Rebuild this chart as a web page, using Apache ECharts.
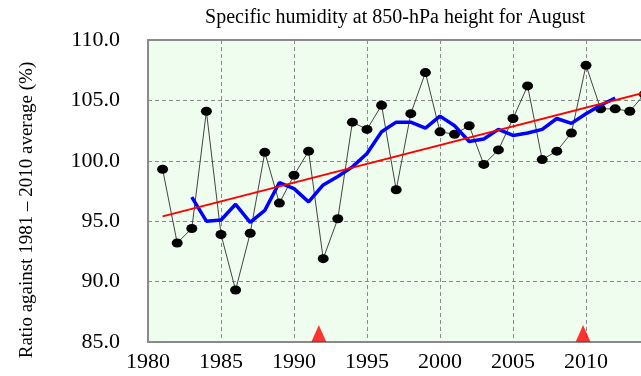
<!DOCTYPE html>
<html>
<head>
<meta charset="utf-8">
<script src="https://cdn.jsdelivr.net/npm/echarts@6/dist/echarts.min.js"></script>
<style>
html,body{margin:0;padding:0;background:#fff;}
#chart{width:641px;height:376px;}
</style>
</head>
<body>
<div id="chart"></div>
<script>
var years = [1981,1982,1983,1984,1985,1986,1987,1988,1989,1990,1991,1992,1993,1994,1995,1996,1997,1998,1999,2000,2001,2002,2003,2004,2005,2006,2007,2008,2009,2010,2011,2012,2013,2014];
var annualValues = [99.3,93.2,94.4,104.1,93.9,89.3,94.0,100.7,96.5,98.8,100.8,91.9,95.2,103.2,102.6,104.6,97.6,103.9,107.3,102.4,102.2,102.9,99.7,100.9,103.5,106.2,100.1,100.8,102.3,107.9,104.3,104.3,104.1,105.5];
var meanYears = [1983,1984,1985,1986,1987,1988,1989,1990,1991,1992,1993,1994,1995,1996,1997,1998,1999,2000,2001,2002,2003,2004,2005,2006,2007,2008,2009,2010,2011,2012];
var runningMean = [97.0,95.0,95.1,96.4,94.9,95.9,98.2,97.7,96.6,98.0,98.7,99.5,100.6,102.4,103.2,103.2,102.7,103.7,102.9,101.6,101.8,102.6,102.1,102.3,102.6,103.5,103.1,103.9,104.6,105.2];
var trendYears = [1981,2014];
var trendValues = [95.4,105.65];
var eventYears = [1991.7,2009.8];
var eventValues = [85,85];
var yTicks = [85,90,95,100,105,110];
var titleText = 'Specific humidity at 850-hPa height for August';
var yTitle = 'Ratio against 1981 \u2013 2010 average (%)';

function pairs(xs, ys){ return xs.map(function(x,i){ return [x, ys[i]]; }); }

var serif = '"Liberation Serif", "Times New Roman", serif';
var chart = echarts.init(document.getElementById('chart'), null, {renderer:'canvas'});
chart.setOption({
  animation:false,
  backgroundColor:'#ffffff',
  grid:{left:148, top:40, width:511, height:302, show:true, backgroundColor:'#effdef', borderColor:'#8a8a8a', borderWidth:2,
    containLabel:false, outerBoundsMode:'none'},
  xAxis:{type:'value', min:1980, max:2015, interval:5,
    axisLine:{show:false}, axisTick:{show:false},
    axisLabel:{margin:9, color:'#000', fontFamily:serif, fontSize:22,
      formatter:function(v){ return v>2010 ? '' : String(v); }},
    splitLine:{show:true, lineStyle:{color:'#8a8a8a', type:[4,3], width:1}}},
  yAxis:{type:'value', min:yTicks[0], max:yTicks[yTicks.length-1], interval:5,
    axisLine:{show:false}, axisTick:{show:false},
    axisLabel:{margin:28, color:'#000', fontFamily:serif, fontSize:22,
      formatter:function(v){ return v.toFixed(1); }},
    splitLine:{show:true, lineStyle:{color:'#8a8a8a', type:[4,3], width:1}}},
  graphic:[
    {type:'text', x:395, y:18, style:{text:titleText, font:'20px ' + serif, fill:'#000', align:'center', verticalAlign:'middle'}},
    {type:'text', x:27, y:210, rotation:Math.PI/2, style:{text:yTitle, font:'19px ' + serif, fill:'#000', align:'center', verticalAlign:'middle'}}
  ],
  series:[
    {type:'line', data:pairs(years, annualValues), symbol:'circle', symbolSize:[11,9], showSymbol:true,
      lineStyle:{color:'#444', width:1}, itemStyle:{color:'#000'}, z:2},
    {type:'line', data:pairs(meanYears, runningMean), showSymbol:false,
      lineStyle:{color:'#0000ff', width:3.5}, z:3},
    {type:'line', data:pairs(trendYears, trendValues), showSymbol:false,
      lineStyle:{color:'#ff0000', width:2}, z:4},
    {type:'scatter', data:pairs(eventYears, eventValues), symbol:'triangle', symbolSize:[15,17],
      symbolOffset:[0,'-50%'], itemStyle:{color:'#ff0000'}, z:5, clip:false}
  ]
});
</script>
</body>
</html>
